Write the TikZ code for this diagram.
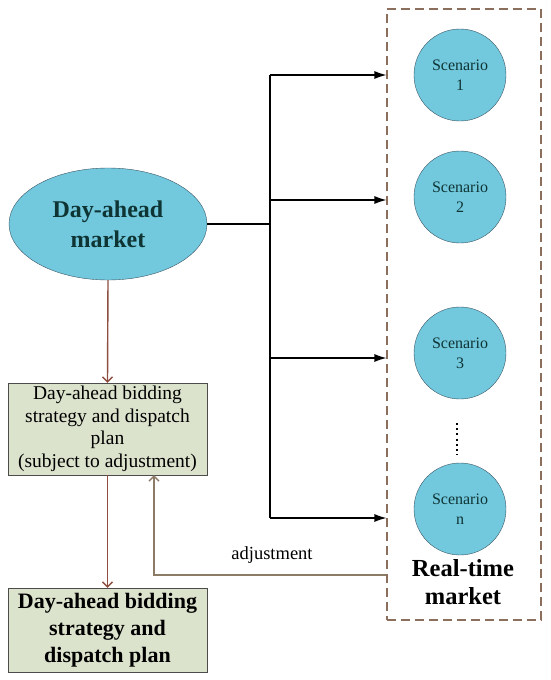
\documentclass[tikz,border=0pt]{standalone}
\usepackage{fontspec}
\setmainfont{Liberation Serif}
\usetikzlibrary{arrows.meta,positioning,shapes.geometric}
\definecolor{MkCyan}{HTML}{72C8DD}
\definecolor{MkEdge}{HTML}{3A5564}
\definecolor{MkText}{HTML}{0E3434}
\definecolor{MkBox}{HTML}{DCE3CD}
\definecolor{MkBrown}{HTML}{8E4E40}
\definecolor{MkDash}{HTML}{8C6E5C}
\definecolor{MkAdj}{HTML}{8C7C66}

\begin{document}
\begin{tikzpicture}[
  x=1pt,y=-1pt,
  market/.style={ellipse,draw=MkEdge,fill=MkCyan,minimum width=198pt,minimum height=112pt,inner sep=0pt,align=center,text=MkText,font=\fontsize{24}{30}\selectfont\bfseries},
  scen/.style={circle,draw=MkEdge,fill=MkCyan,minimum size=92pt,inner sep=0pt,align=center,text=MkText,font=\fontsize{16}{20}\selectfont},
  plan/.style={draw=black!70,fill=MkBox,minimum width=199pt,align=center,inner sep=0pt},
  arr/.style={-{Latex[length=12pt,width=8pt]},draw=black,line width=1.1pt},
  flow/.style={-{Straight Barb[length=5pt,width=10pt]},draw=MkBrown,line width=1.4pt},
  adj/.style={-{Straight Barb[length=5pt,width=10pt]},draw=MkAdj,line width=1.4pt}
]
\useasboundingbox (0,0) rectangle (550,680);
\node[market] (dam) at (108,224) {Day-ahead\\market};
\node[plan,minimum height=92pt,font=\fontsize{19.5}{22.5}\selectfont] (draft) at (107.5,429) {Day-ahead bidding\\strategy and dispatch\\plan\\(subject to adjustment)};
\node[plan,minimum height=84pt,font=\fontsize{22}{27}\selectfont\bfseries] (final) at (107.5,630) {Day-ahead bidding\\strategy and\\dispatch plan};
\node[draw=MkDash,dash pattern=on 9pt off 5pt,line width=1.1pt,minimum width=154pt,minimum height=611pt,inner sep=0pt] (rt) at (464,314.5) {};
\node[scen] (s1) at (460,75) {Scenario\\1};
\node[scen] (s2) at (460,197) {Scenario\\2};
\node[scen] (s3) at (460,353) {Scenario\\3};
\node[scen] (sn) at (460,509) {Scenario\\n};
\node[font=\fontsize{24.5}{28}\selectfont\bfseries,align=center] (rtl) at (463,582) {Real-time\\market};
\draw[line width=2pt,dash pattern=on 2pt off 3.2pt] (457,423) -- (457,455);
% day-ahead to scenarios
\coordinate (hub) at (270,224);
\draw[line width=1.1pt] (dam.east) -- (hub);
\foreach \y [count=\i] in {75,200,358,518} {
  \coordinate (b\i) at (270,\y);
  \draw[arr] (b\i) -- (b\i -| rt.west);
}
\draw[line width=1.1pt] (b1) -- (b4);
% plan flow
\draw[flow] (dam.south) -- (draft.north);
\draw[flow] (draft.south) -- (final.north);
\coordinate (fb) at (154,575);
\draw[adj] (fb -| rt.west) -- (fb) -- (fb |- draft.south);
\node[font=\fontsize{18.5}{22}\selectfont] (adjl) at (272,555) {adjustment};
\end{tikzpicture}
\end{document}
